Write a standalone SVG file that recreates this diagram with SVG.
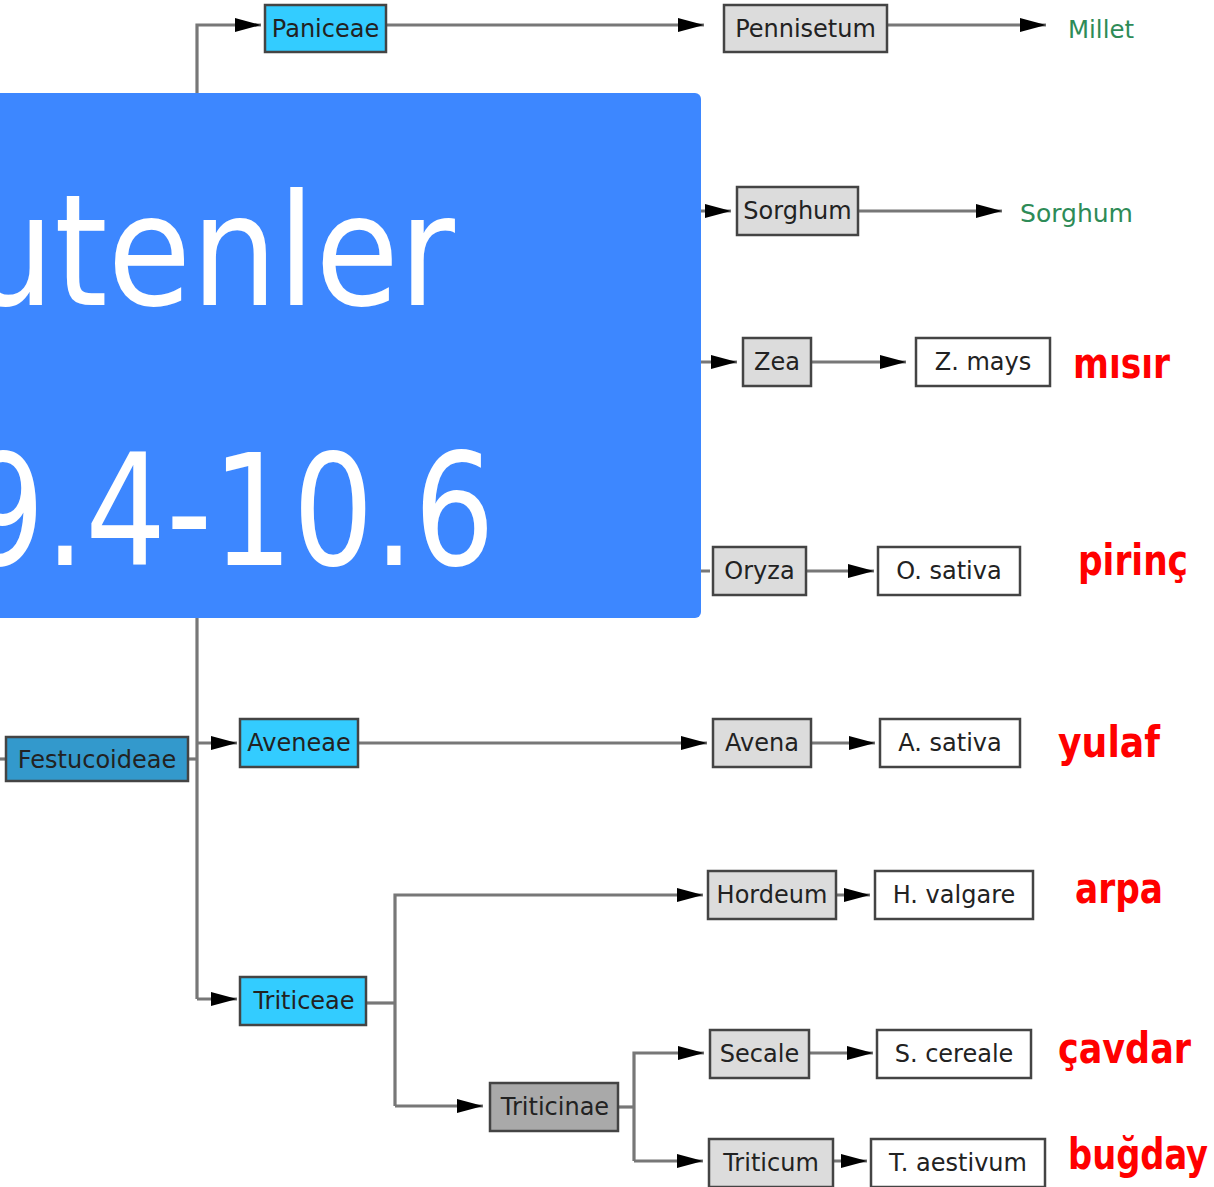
<svg xmlns="http://www.w3.org/2000/svg" width="1214" height="1187" viewBox="0 0 1214 1187">
<style>
.n rect{stroke:#444;stroke-width:2.5}
.n text{font-family:"DejaVu Sans",Verdana,sans-serif;font-size:24px;fill:#222;text-anchor:middle}
.tribe rect{fill:#33ccff}
.sub rect{fill:#3399cc}
.genus rect{fill:#dcdcdc}
.subtribe rect{fill:#a9a9a9}
.sp rect{fill:#ffffff}
.conn path{fill:none;stroke:#777;stroke-width:3.2}
.green{font-family:"DejaVu Sans",Verdana,sans-serif;font-size:25px;fill:#2e8b57}
.red{font-family:"DejaVu Sans Condensed","DejaVu Sans",sans-serif;font-weight:bold;font-size:42px;fill:#ff0000}
.big{font-family:"DejaVu Sans",sans-serif;font-size:155px;fill:#ffffff}
</style>
<defs>
<marker id="ah" markerUnits="userSpaceOnUse" markerWidth="26" markerHeight="14" viewBox="0 0 26 14" refX="26" refY="7" orient="auto">
<path d="M0,0 L26,7 L0,14 z" fill="#000"/>
</marker>
</defs>
<rect width="1214" height="1187" fill="#fff"/>
<g class="conn">
<path d="M0,759 H6"/>
<path d="M188,759 H197"/>
<path d="M197,999 V25 H261" marker-end="url(#ah)"/>
<path d="M197,743 H237" marker-end="url(#ah)"/>
<path d="M197,999 H237" marker-end="url(#ah)"/>
<path d="M386,25 H704" marker-end="url(#ah)"/>
<path d="M887,25 H1046" marker-end="url(#ah)"/>
<path d="M600,211 H731" marker-end="url(#ah)"/>
<path d="M858,211 H1002" marker-end="url(#ah)"/>
<path d="M600,362 H737" marker-end="url(#ah)"/>
<path d="M811,362 H906" marker-end="url(#ah)"/>
<path d="M600,571 H710"/>
<path d="M806,571 H874" marker-end="url(#ah)"/>
<path d="M358,743 H707" marker-end="url(#ah)"/>
<path d="M811,743 H875" marker-end="url(#ah)"/>
<path d="M366,1003 H395"/>
<path d="M395,1106 V895 H703" marker-end="url(#ah)"/>
<path d="M395,1106 H483" marker-end="url(#ah)"/>
<path d="M836,895 H870" marker-end="url(#ah)"/>
<path d="M618,1107 H634"/>
<path d="M634,1161 V1053 H704" marker-end="url(#ah)"/>
<path d="M634,1161 H703" marker-end="url(#ah)"/>
<path d="M809,1053 H873" marker-end="url(#ah)"/>
<path d="M833,1161 H867" marker-end="url(#ah)"/>
</g>
<g id="paniceae" class="n tribe"><rect x="265" y="5" width="121" height="47"/><text x="325.5" y="37">Paniceae</text></g>
<g id="pennisetum" class="n genus"><rect x="724" y="5" width="163" height="47"/><text x="805.5" y="37">Pennisetum</text></g>
<g id="millet"><text class="green" x="1068" y="38" textLength="66" lengthAdjust="spacingAndGlyphs">Millet</text></g>
<g id="sorghum-genus" class="n genus"><rect x="737" y="187" width="121" height="48"/><text x="797.5" y="219">Sorghum</text></g>
<g id="sorghum-crop"><text class="green" x="1020" y="222" textLength="113" lengthAdjust="spacingAndGlyphs">Sorghum</text></g>
<g id="zea" class="n genus"><rect x="743" y="338" width="68" height="48"/><text x="777" y="370">Zea</text></g>
<g id="zmays" class="n sp"><rect x="916" y="338" width="134" height="48"/><text x="983" y="370">Z. mays</text></g>
<g id="misir"><text class="red" x="1073" y="378" textLength="97" lengthAdjust="spacingAndGlyphs">mısır</text></g>
<g id="oryza" class="n genus"><rect x="713" y="547" width="93" height="48"/><text x="759.5" y="579">Oryza</text></g>
<g id="osativa" class="n sp"><rect x="878" y="547" width="142" height="48"/><text x="949" y="579">O. sativa</text></g>
<g id="pirinc"><text class="red" x="1078" y="575" textLength="110" lengthAdjust="spacingAndGlyphs">pirinç</text></g>
<g id="festucoideae" class="n sub"><rect x="6" y="737" width="182" height="44"/><text x="97" y="768">Festucoideae</text></g>
<g id="aveneae" class="n tribe"><rect x="240" y="719" width="118" height="48"/><text x="299" y="751">Aveneae</text></g>
<g id="avena" class="n genus"><rect x="713" y="719" width="98" height="48"/><text x="762" y="751">Avena</text></g>
<g id="asativa" class="n sp"><rect x="880" y="719" width="140" height="48"/><text x="950" y="751">A. sativa</text></g>
<g id="yulaf"><text class="red" x="1058" y="757" textLength="102" lengthAdjust="spacingAndGlyphs">yulaf</text></g>
<g id="hordeum" class="n genus"><rect x="708" y="871" width="128" height="48"/><text x="772" y="903">Hordeum</text></g>
<g id="hvalgare" class="n sp"><rect x="875" y="871" width="158" height="48"/><text x="954" y="903">H. valgare</text></g>
<g id="arpa"><text class="red" x="1075" y="903" textLength="88" lengthAdjust="spacingAndGlyphs">arpa</text></g>
<g id="triticeae" class="n tribe"><rect x="240" y="977" width="126" height="48"/><text x="304" y="1009">Triticeae</text></g>
<g id="triticinae" class="n subtribe"><rect x="490" y="1083" width="128" height="48"/><text x="555" y="1115">Triticinae</text></g>
<g id="secale" class="n genus"><rect x="710" y="1030" width="99" height="48"/><text x="759.5" y="1062">Secale</text></g>
<g id="scereale" class="n sp"><rect x="877" y="1030" width="154" height="48"/><text x="954" y="1062">S. cereale</text></g>
<g id="cavdar"><text class="red" x="1058" y="1063" textLength="133" lengthAdjust="spacingAndGlyphs">çavdar</text></g>
<g id="triticum" class="n genus"><rect x="709" y="1139" width="124" height="48"/><text x="771" y="1171">Triticum</text></g>
<g id="taestivum" class="n sp"><rect x="871" y="1139" width="174" height="48"/><text x="958" y="1171">T. aestivum</text></g>
<g id="bugday"><text class="red" x="1068" y="1169" font-size="38" textLength="140" lengthAdjust="spacingAndGlyphs">buğday</text></g>
<g id="banner">
<rect x="-10" y="93" width="711" height="525" rx="6" fill="#3d87ff"/>
<text class="big" x="-32" y="305" textLength="487" lengthAdjust="spacingAndGlyphs">utenler</text>
<text class="big" x="-36" y="565" textLength="531" lengthAdjust="spacingAndGlyphs">9.4-10.6</text>
</g>
</svg>
